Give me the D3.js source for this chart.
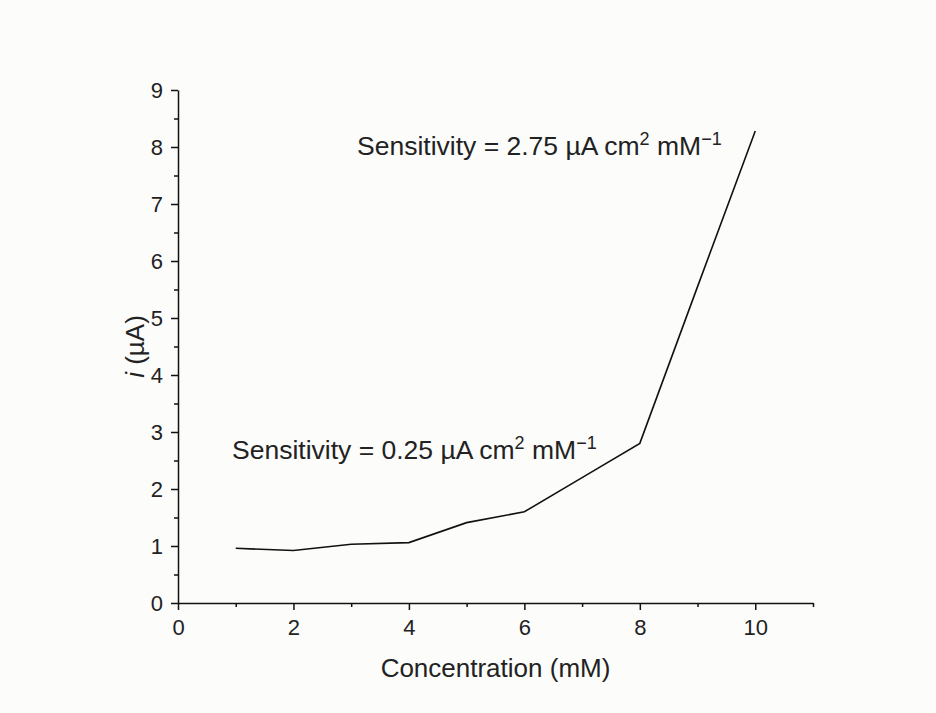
<!DOCTYPE html>
<html>
<head>
<meta charset="UTF-8">
<title>concentration vs current</title>
<script src="https://cdn.jsdelivr.net/npm/d3@7"></script>
<style>
  html, body { margin: 0; padding: 0; background: #fcfcfb; }
  text { font-family: 'Liberation Sans', Arial, sans-serif; fill: #222; }
</style>
</head>
<body>
<script>
  // data
  const concentration = [1, 2, 3, 4, 5, 6, 7, 8, 9, 10]
  const current = [0.96, 0.92, 1.03, 1.06, 1.41, 1.60, 2.2, 2.80, 5.55, 8.28]
  const xTicks = [0, 2, 4, 6, 8, 10]
  const xMinor = [1, 3, 5, 7, 9, 11]
  const yTicks = [0, 1, 2, 3, 4, 5, 6, 7, 8, 9]
  const yMinor = [0.5, 1.5, 2.5, 3.5, 4.5, 5.5, 6.5, 7.5, 8.5]

  const width = 936
  const height = 713
  const margin = { top: 90, right: 123, bottom: 110, left: 178 }

  const svg = d3.select('body').append('svg')
    .attr('width', width).attr('height', height)

  const x = d3.scaleLinear()
    .domain([0, 11])
    .range([margin.left, width - margin.right])

  const y = d3.scaleLinear()
    .domain([0, 9])
    .range([height - margin.bottom, margin.top])

  const xAxis = g => g
    .attr('transform', `translate(0,${height - margin.bottom})`)
    .call(d3.axisBottom(x).tickValues(xTicks).tickSize(7).tickSizeOuter(0).tickPadding(9))
    .call(g => g.select('.domain').attr('stroke', '#111').attr('stroke-width', 1.5))
    .call(g => g.selectAll('.tick line').attr('stroke', '#111').attr('stroke-width', 1.5))
    .call(g => g.selectAll('.tick text').style('font-size', '22px').attr('fill', '#222'))

  const xAxisMinor = g => g
    .attr('transform', `translate(0,${height - margin.bottom})`)
    .call(d3.axisBottom(x).tickValues(xMinor).tickSize(4).tickSizeOuter(0).tickFormat(''))
    .call(g => g.select('.domain').remove())
    .call(g => g.selectAll('.tick line').attr('stroke', '#111').attr('stroke-width', 1.5))

  const yAxis = g => g
    .attr('transform', `translate(${margin.left},0)`)
    .call(d3.axisLeft(y).tickValues(yTicks).tickSize(7).tickSizeOuter(0).tickPadding(8))
    .call(g => g.select('.domain').attr('stroke', '#111').attr('stroke-width', 1.5))
    .call(g => g.selectAll('.tick line').attr('stroke', '#111').attr('stroke-width', 1.5))
    .call(g => g.selectAll('.tick text').style('font-size', '22px').attr('fill', '#222'))

  const yAxisMinor = g => g
    .attr('transform', `translate(${margin.left},0)`)
    .call(d3.axisLeft(y).tickValues(yMinor).tickSize(4).tickSizeOuter(0).tickFormat(''))
    .call(g => g.select('.domain').remove())
    .call(g => g.selectAll('.tick line').attr('stroke', '#111').attr('stroke-width', 1.5))

  svg.append('g').call(xAxisMinor)
  svg.append('g').call(yAxisMinor)
  svg.append('g').call(xAxis)
  svg.append('g').call(yAxis)

  // 축 제목
  svg.append('text')
    .attr('x', (x(0) + x(11)) / 2)
    .attr('y', height - margin.bottom + 74)
    .attr('text-anchor', 'middle')
    .style('font-size', '26px')
    .text('Concentration (mM)')

  const yTitle = svg.append('text')
    .attr('transform', `translate(144,${(y(0) + y(9)) / 2}) rotate(-90)`)
    .attr('text-anchor', 'middle')
    .style('font-size', '26px')
  yTitle.append('tspan').style('font-style', 'italic').text('i')
  yTitle.append('tspan').text(' (µA)')

  // line
  const line = d3.line()
    .x((d, i) => x(concentration[i]))
    .y(d => y(d))

  svg.append('path')
    .datum(current)
    .attr('fill', 'none')
    .attr('stroke', '#111')
    .attr('stroke-width', 1.6)
    .attr('stroke-linejoin', 'miter')
    .attr('d', line)

  // annotations
  function sensitivity(tx, ty, value) {
    const t = svg.append('text')
      .attr('x', tx).attr('y', ty)
      .style('font-size', '26.5px')
    t.append('tspan').text(`Sensitivity = ${value} µA cm`)
    t.append('tspan').text('2').attr('dy', -10).style('font-size', '18px')
    t.append('tspan').text(' mM').attr('dy', 10)
    t.append('tspan').text('−1').attr('dy', -10).style('font-size', '18px')
  }
  sensitivity(357, 155, '2.75')
  sensitivity(232, 459, '0.25')
</script>
</body>
</html>
